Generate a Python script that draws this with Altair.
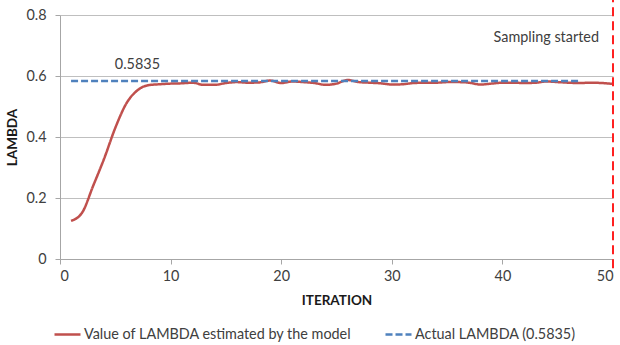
import altair as alt
import pandas as pd

# Estimated LAMBDA per iteration
iterations = list(range(1, 51))
lambda_estimated = [
    0.125, 0.152, 0.240, 0.330, 0.430, 0.510, 0.553, 0.570, 0.573, 0.575,
    0.576, 0.578, 0.571, 0.571, 0.577, 0.580, 0.578, 0.579, 0.585, 0.577,
    0.582, 0.580, 0.577, 0.571, 0.575, 0.587, 0.580, 0.578, 0.576, 0.572,
    0.573, 0.577, 0.578, 0.578, 0.580, 0.580, 0.578, 0.572, 0.575, 0.578,
    0.578, 0.577, 0.578, 0.582, 0.580, 0.578, 0.577, 0.578, 0.577, 0.574,
]

# True value, drawn as a reference line
actual_lambda = 0.5835
actual_span = [1, 47]

# Start of sampling
sampling_iteration = [50]
sampling_extent = [-0.03, 0.85]

x_ticks = [0, 10, 20, 30, 40, 50]
y_ticks = [0, 0.2, 0.4, 0.6, 0.8]

EST = "Value of LAMBDA estimated by the model"
ACT = "Actual LAMBDA (0.5835)"

notes_x = [48.73, 7.0]
notes_y = [0.726, 0.636]
notes_text = ["Sampling started", "0.5835"]
notes_align = ["right", "center"]

FONT = "Lato"
TEXT = "#404040"
SIZE = 14.4

lines = pd.DataFrame({
    "iteration": iterations + actual_span,
    "lambda": lambda_estimated + [actual_lambda] * len(actual_span),
    "series": [EST] * len(iterations) + [ACT] * len(actual_span),
})
rule_df = pd.DataFrame({
    "iteration": sampling_iteration,
    "lo": [sampling_extent[0]],
    "hi": [sampling_extent[1]],
})
notes = pd.DataFrame({"x": notes_x, "y": notes_y, "text": notes_text, "align": notes_align})

x_scale = alt.Scale(domain=[0, 50], nice=False, zero=False)
y_scale = alt.Scale(domain=[0, 0.8], nice=False)

line = alt.Chart(lines).mark_line(interpolate="monotone", strokeWidth=2.5).encode(
    x=alt.X("iteration:Q", scale=x_scale,
            axis=alt.Axis(values=x_ticks, title="ITERATION", grid=False,
                          labelPadding=5, titleY=41, titleBaseline="middle")),
    y=alt.Y("lambda:Q", scale=y_scale,
            axis=alt.Axis(values=y_ticks, format="~g", title="LAMBDA", grid=True,
                          labelPadding=9, titleX=-47.5, titleBaseline="middle")),
    color=alt.Color("series:N",
                    scale=alt.Scale(domain=[EST, ACT], range=["#C0504D", "#4F81BD"]),
                    legend=alt.Legend(title=None)),
    strokeDash=alt.StrokeDash("series:N",
                              scale=alt.Scale(domain=[EST, ACT], range=[[1, 0], [7, 3]]),
                              legend=alt.Legend(title=None)),
)

rule = alt.Chart(rule_df).mark_rule(color="#FF2020", strokeWidth=2, strokeDash=[9, 5]).encode(
    x=alt.X("iteration:Q", scale=x_scale),
    y=alt.Y("lo:Q", scale=y_scale),
    y2="hi:Q",
)

center_notes = alt.Chart(notes).mark_text(
    font=FONT, fontSize=SIZE, color=TEXT, baseline="middle", align="center"
).encode(
    x=alt.X("x:Q", scale=x_scale),
    y=alt.Y("y:Q", scale=y_scale),
    text="text:N",
).transform_filter(alt.datum.align == "center")

right_notes = alt.Chart(notes).mark_text(
    font=FONT, fontSize=SIZE, color=TEXT, baseline="middle", align="right"
).encode(
    x=alt.X("x:Q", scale=x_scale),
    y=alt.Y("y:Q", scale=y_scale),
    text="text:N",
).transform_filter(alt.datum.align == "right")

chart = alt.layer(line, rule, center_notes, right_notes).properties(
    width=553,
    height=244,
    autosize=alt.AutoSizeParams(type="none"),
    padding={"left": 60, "top": 15, "right": 7, "bottom": 86},
).configure_view(stroke=None).configure_axis(
    labelFont=FONT, labelFontSize=SIZE, labelColor=TEXT,
    titleFont=FONT, titleFontSize=13.5, titleFontWeight="bold", titleColor="#1a1a1a",
    domainColor="#A6A6A6", tickColor="#A6A6A6", tickSize=5,
    gridColor="#BFBFBF", gridWidth=1,
).configure_legend(
    orient="none", legendX=-7, legendY=305, direction="horizontal",
    symbolType="stroke", symbolSize=676, symbolStrokeWidth=2.5,
    labelFont=FONT, labelFontSize=SIZE, labelColor=TEXT, labelLimit=400,
    labelOffset=2, columnPadding=28, padding=0,
)

chart.save("out.html", embed_options={"renderer": "svg", "actions": False})
